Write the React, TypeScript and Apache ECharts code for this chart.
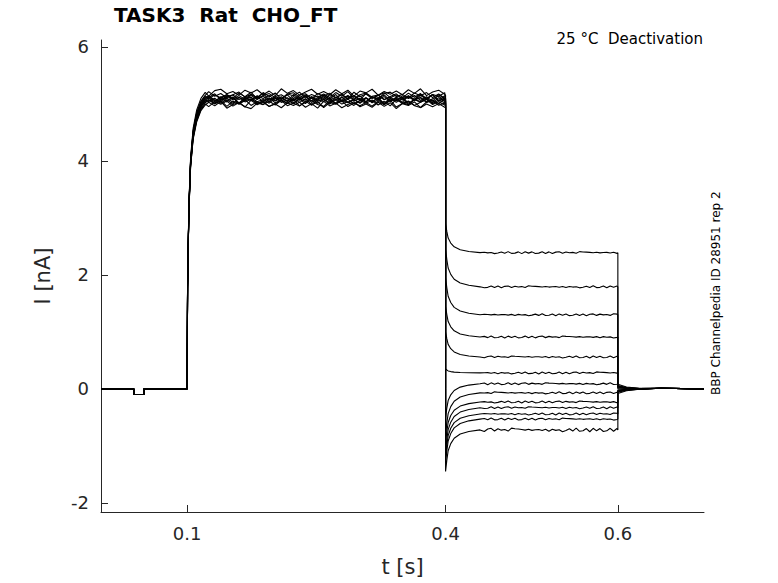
import React, { useEffect, useRef } from "react";
import * as echarts from "echarts";

const xTicks = [0.1, 0.4, 0.6];
const yTicks = [-2, 0, 2, 4, 6];
// per-sweep readings
const plateau = [5.05, 5.1, 5.0, 5.15, 5.08, 5.12, 4.98, 5.2, 5.05, 5.1, 5.02, 5.14, 5.06];
const tailStart = [2.9, 2.45, 1.95, 1.45, 1.0, 0.35, -0.5, -0.8, -0.95, -1.1, -1.2, -1.3, -1.45];
const tailLevel = [2.39, 1.79, 1.3, 0.91, 0.56, 0.28, 0.09, -0.07, -0.23, -0.33, -0.44, -0.53, -0.72];
const postStart = [0.08, 0.06, 0.05, 0.04, 0.03, 0.02, 0.0, -0.02, -0.03, -0.04, -0.05, -0.06, -0.08];
// hand-read trace shapes
const riseT = [0.1005, 0.102, 0.104, 0.107, 0.111, 0.116, 0.121];
const riseFrac = [0.35, 0.62, 0.78, 0.88, 0.94, 0.98, 1.0];
const decayT = [0.4015, 0.403, 0.406, 0.41, 0.417, 0.427, 0.44];
const decayFrac = [0.72, 0.5, 0.33, 0.2, 0.1, 0.04, 0.0];
const noise = [0.03, -0.05, 0.06, -0.02, 0.08, -0.07, 0.01, 0.05, -0.04, -0.08, 0.04, 0.07, -0.03, 0.02, -0.06, 0.05,
  -0.01, 0.06, -0.05, 0.03, -0.07, 0.08, -0.02, 0.04, -0.06, 0.01, 0.07, -0.04, 0.02, -0.05, 0.06, -0.03, 0.05, -0.08,
  0.03, -0.01, 0.07, -0.06, 0.02, -0.04];

function buildSweep(k: number): number[][] {
  const p: number[][] = [[0, 0], [0.038, 0], [0.038, -0.1], [0.05, -0.1], [0.05, 0], [0.1, 0]];
  riseT.forEach((t, i) => p.push([t, plateau[k] * riseFrac[i]]));
  const n = noise.length;
  for (let i = 0; i < n; i++) {
    const t = 0.125 + (0.274 * i) / (n - 1);
    p.push([t, plateau[k] + noise[(i + k * 7) % n] * 0.8]);
  }
  p.push([0.4, plateau[k] - 0.05]);
  p.push([0.4, tailStart[k]]);
  decayT.forEach((t, i) => p.push([t, tailLevel[k] + (tailStart[k] - tailLevel[k]) * decayFrac[i]]));
  const amp = k === 12 ? 0.4 : 0.22;
  for (let i = 0; i < n; i++) {
    const t = 0.445 + (0.154 * i) / (n - 1);
    p.push([t, tailLevel[k] + noise[(i * 3 + k * 5) % n] * amp]);
  }
  p.push([0.6, tailLevel[k]]);
  p.push([0.6, postStart[k]]);
  p.push([0.61, postStart[k] * 0.4]);
  p.push([0.625, postStart[k] * 0.1]);
  p.push([0.65, 0.01]);
  p.push([0.7, 0]);
  return p;
}

export default function App() {
  const ref = useRef<HTMLDivElement>(null);
  useEffect(() => {
    document.body.style.margin = "0";
    const chart = echarts.init(ref.current!, null, { renderer: "svg" });
    const font = "DejaVu Sans";
    chart.setOption({
      animation: false,
      textStyle: { fontFamily: font },
      grid: { left: 101, right: 74, top: 40, bottom: 71 },
      xAxis: {
        type: "value", min: 0, max: 0.7,
        name: "t [s]", nameLocation: "middle", nameGap: 44,
        nameTextStyle: { fontSize: 21, color: "#262626", fontFamily: font },
        axisLine: { onZero: false, lineStyle: { color: "#262626" } },
        axisTick: { inside: true, length: 7, customValues: xTicks, lineStyle: { color: "#262626" } },
        axisLabel: { customValues: xTicks, fontSize: 18, color: "#262626", margin: 12, formatter: (v: number) => String(v) },
        splitLine: { show: false },
      },
      yAxis: {
        type: "value", min: -2.16, max: 6.12,
        name: "I [nA]", nameLocation: "middle", nameGap: 48,
        nameTextStyle: { fontSize: 21, color: "#262626", fontFamily: font },
        axisLine: { show: true, lineStyle: { color: "#262626" } },
        axisTick: { show: true, inside: true, length: 7, customValues: yTicks, lineStyle: { color: "#262626" } },
        axisLabel: { customValues: yTicks, fontSize: 18, color: "#262626", margin: 12, formatter: (v: number) => String(v) },
        splitLine: { show: false },
      },
      graphic: [
        { type: "text", left: 114, top: 5, style: { text: "TASK3  Rat  CHO_FT", font: `bold 20px ${font}`, fill: "#000" } },
        { type: "text", right: 75, top: 31, style: { text: "25 °C  Deactivation", font: `15px ${font}`, fill: "#000" } },
        { type: "text", x: 710, y: 395, rotation: Math.PI / 2, style: { text: "BBP Channelpedia ID 28951 rep 2", font: `12px ${font}`, fill: "#000" } },
      ],
      series: plateau.map((_, k) => ({
        type: "line", data: buildSweep(k), showSymbol: false, silent: true,
        lineStyle: { color: "#000", width: 1.1 },
      })),
    });
    return () => chart.dispose();
  }, []);
  return <div ref={ref} style={{ width: 778, height: 583 }} />;
}
